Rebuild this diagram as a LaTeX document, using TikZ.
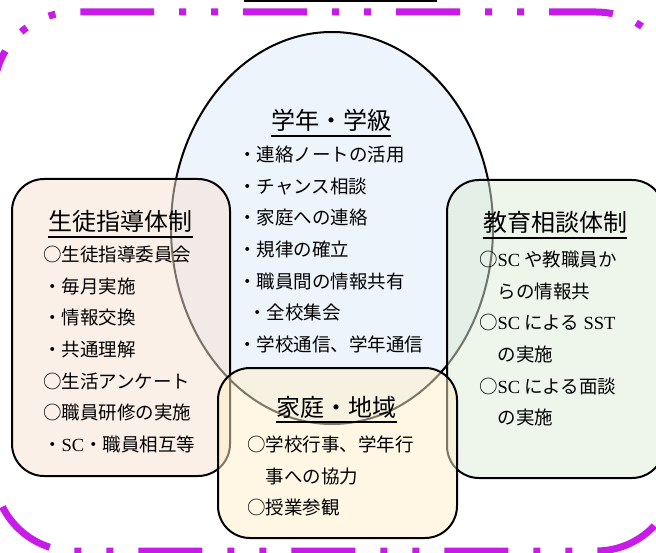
\documentclass[tikz,border=0pt]{standalone}
\usepackage{fontspec}
\setmainfont{Noto Sans CJK JP}
\newfontfamily\latin{Liberation Serif}
\usepackage{tikz}
\usetikzlibrary{
positioning,
shapes
}
\tikzset{>=latex}
\definecolor{purp}{RGB}{199,27,232}
\definecolor{blue1}{RGB}{237,244,251}
\definecolor{peach}{RGB}{247,226,210}
\definecolor{mint}{RGB}{221,235,215}
\definecolor{cream}{RGB}{255,239,199}

\begin{document}
\begin{tikzpicture}[x=1pt,y=-1pt,node distance=12.7pt and 0pt,>=latex,
		box/.style={draw,line width=2pt,rounded corners=32pt,fill opacity=0.5},
		head/.style={inner sep=0pt,font=\tb,text height=21pt,text depth=3pt},
		entry/.style={inner sep=0pt,font=\ts,text height=16pt,text depth=2.5pt,anchor=west},
		uline/.style={line width=2pt}]
		\def\ts{\fontsize{18.5}{20}\selectfont}
		\def\tb{\fontsize{24}{26}\selectfont}
		\useasboundingbox (0,0) rectangle (656,553);
		% outer frame
		\draw[purp,line width=7pt,rounded corners=80pt,
			dash pattern=on 64pt off 25pt on 7pt off 25pt on 7pt off 25pt]
			(90,12) -- (676,12) -- (676,551) -- (-6,551) -- (-6,12) -- (90,12);
		\draw[uline] (244,1) -- (437,1);
		% shapes
		\draw[line width=2pt,fill=blue1] (332,228) ellipse [x radius=161pt,y radius=196pt];
		\draw[box,fill=peach] (12,179) rectangle (230,476);
		\draw[box,fill=mint] (447,180) rectangle (664,478);
		\draw[box,fill=cream] (218,368) rectangle (457,538);
		
		% grade and class
		\node[head] (grade) at (331,121) {学年・学級};
		\draw[uline] ([yshift=-3pt]grade.south west) -- ([yshift=-3pt]grade.south east);
		\node[entry] (gr1) at (238,155) {・連絡ノートの活用};
		\node[entry,below right=of gr1.south west] (gr2) {・チャンス相談};
		\node[entry,below right=of gr2.south west] (gr3) {・家庭への連絡};
		\node[entry,below right=of gr3.south west] (gr4) {・規律の確立};
		\node[entry,below right=of gr4.south west] (gr5) {・職員間の情報共有};
		\node[entry,below right=of gr5.south west] (gr6) {\hspace*{10pt}・全校集会};
		\node[entry,below right=of gr6.south west] (gr7) {・学校通信、学年通信};
		
		% guidance
		\node[head] (guide) at (120.5,222) {生徒指導体制};
		\draw[uline] ([yshift=-3pt]guide.south west) -- ([yshift=-3pt]guide.south east);
		\node[entry] (gu1) at (43,255) {○生徒指導委員会};
		\node[entry,below right=of gu1.south west] (gu2) {・毎月実施};
		\node[entry,below right=of gu2.south west] (gu3) {・情報交換};
		\node[entry,below right=of gu3.south west] (gu4) {・共通理解};
		\node[entry,below right=of gu4.south west] (gu5) {○生活アンケート};
		\node[entry,below right=of gu5.south west] (gu6) {○職員研修の実施};
		\node[entry,below right=of gu6.south west] (gu7) {・{\latin SC}・職員相互等};
		
		% counselling
		\node[head] (counsel) at (555,223) {教育相談体制};
		\draw[uline] ([yshift=-3pt]counsel.south west) -- ([yshift=-3pt]counsel.south east);
		\node[entry] (co1) at (479,260) {○{\latin SC} や教職員か};
		\node[entry,below right=of co1.south west] (co2) {　らの情報共};
		\node[entry,below right=of co2.south west] (co3) {○{\latin SC} による {\latin SST}};
		\node[entry,below right=of co3.south west] (co4) {　の実施};
		\node[entry,below right=of co4.south west] (co5) {○{\latin SC} による面談};
		\node[entry,below right=of co5.south west] (co6) {　の実施};
		
		% home and community
		\node[head] (home) at (336.5,407) {家庭・地域};
		\draw[uline] ([yshift=-3pt]home.south west) -- ([yshift=-3pt]home.south east);
		\node[entry] (ho1) at (247,445) {○学校行事、学年行};
		\node[entry,below right=of ho1.south west] (ho2) {　事への協力};
		\node[entry,below right=of ho2.south west] (ho3) {○授業参観};
\end{tikzpicture}
\end{document}
